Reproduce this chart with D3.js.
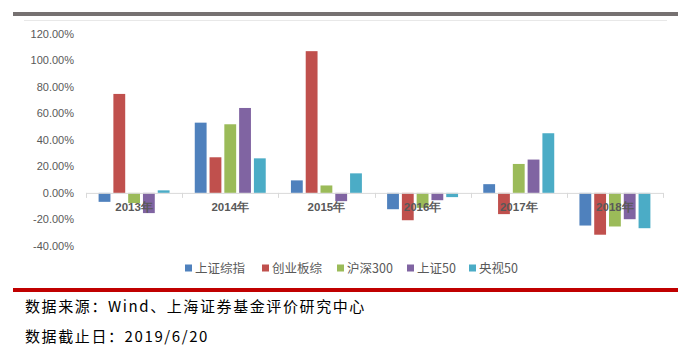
<!DOCTYPE html>
<html>
<head>
<meta charset="utf-8">
<script src="https://cdn.jsdelivr.net/npm/d3@7"></script>
<style>
  html, body { margin: 0; padding: 0; background: #fff; }
  svg { display: block; }
</style>
</head>
<body>
<svg id="chart" width="695" height="347"></svg>
<script>
// Annual returns (%) by index, 2013–2018
const years = ["2013年", "2014年", "2015年", "2016年", "2017年", "2018年"];
const seriesNames = ["上证综指", "创业板综", "沪深300", "上证50", "央视50"];
const szComposite = [-6.75, 52.87, 9.41, -12.31, 6.56, -24.59];
const chinextComposite = [74.5, 26.8, 106.7, -20.6, -16.0, -31.5];
const csi300 = [-7.65, 51.66, 5.58, -11.28, 21.78, -25.31];
const sse50 = [-15.23, 63.93, -6.23, -5.53, 25.08, -19.83];
const cctv50 = [1.9, 26.0, 14.7, -3.2, 44.9, -26.6];
const yTicks = [-40, -20, 0, 20, 40, 60, 80, 100, 120];
const sourceLines = ["数据来源：Wind、上海证券基金评价研究中心", "数据截止日：2019/6/20"];

const seriesValues = [szComposite, chinextComposite, csi300, sse50, cctv50];
const colors = ["#4f81bd", "#c0504d", "#9bbb59", "#8064a2", "#4bacc6"];

const svg = d3.select("#chart");

// top frame band and light border
svg.append("rect").attr("x", 13).attr("y", 12).attr("width", 665).attr("height", 4).attr("fill", "#767171");
svg.append("line").attr("x1", 24).attr("x2", 667).attr("y1", 20.5).attr("y2", 20.5)
  .attr("stroke", "#e8e8e8").attr("stroke-width", 1);

const x0 = d3.scaleBand().domain(years).range([86, 663]).padding(0);
const bw = x0.bandwidth();
const x1 = d3.scaleBand().domain(seriesNames).range([12.6, bw - 12.6]).paddingInner(0.2).paddingOuter(0);
const y = d3.scaleLinear().domain([-40, 120]).range([246, 33.5]);

// y-axis labels
const yAxis = d3.axisLeft(y).tickValues(yTicks).tickSize(0).tickPadding(0)
  .tickFormat(d => d.toFixed(2) + "%");
const gy = svg.append("g").attr("transform", "translate(74,0)").call(yAxis);
gy.select(".domain").remove();
gy.selectAll("text").attr("fill", "#595959").attr("font-family", "Liberation Sans, Arial, sans-serif")
  .attr("font-size", 11);

// bars
const groups = svg.append("g").selectAll("g").data(years).join("g")
  .attr("transform", d => `translate(${x0(d)},0)`);
groups.selectAll("rect")
  .data((d, i) => seriesNames.map((s, j) => ({ s, j, v: seriesValues[j][i] })))
  .join("rect")
  .attr("x", d => x1(d.s))
  .attr("width", x1.bandwidth())
  .attr("y", d => y(Math.max(0, d.v)))
  .attr("height", d => Math.abs(y(d.v) - y(0)))
  .attr("fill", d => colors[d.j]);

// zero axis with category ticks
const xAxis = d3.axisBottom(x0).tickSize(0).tickFormat("");
const gx = svg.append("g").attr("transform", `translate(0,${y(0)})`).call(xAxis);
gx.select(".domain").attr("stroke", "#d9d9d9").attr("d", `M86,0.5H663`);
gx.selectAll(".tick").remove();
const bounds = years.map(d => x0(d)).concat([663]);
gx.selectAll("line.cat").data(bounds).join("line").attr("class", "cat")
  .attr("x1", d => Math.round(d) + 0.5).attr("x2", d => Math.round(d) + 0.5)
  .attr("y1", 0).attr("y2", 5).attr("stroke", "#d9d9d9");

// category labels, drawn over the bars
svg.append("g").selectAll("text").data(years).join("text")
  .attr("x", d => x0(d) + bw / 2)
  .attr("y", y(0) + 18)
  .attr("text-anchor", "middle")
  .attr("font-family", "Liberation Sans, Arial, sans-serif")
  .attr("font-weight", "bold")
  .attr("font-size", 11.5)
  .attr("fill", "#595959")
  .text(d => d);

// legend
const legendX = [185, 262, 337, 407, 469];
const lg = svg.append("g").selectAll("g").data(seriesNames).join("g")
  .attr("transform", (d, i) => `translate(${legendX[i]},268)`);
lg.append("rect").attr("x", 0).attr("y", -3.5).attr("width", 7).attr("height", 7)
  .attr("fill", (d, i) => colors[i]);
lg.append("text").attr("x", 10).attr("y", 0).attr("dy", "0.36em")
  .attr("font-family", "Noto Sans CJK SC, sans-serif").attr("font-size", 12.5)
  .attr("fill", "#595959").text(d => d);

// red rule and source notes
svg.append("rect").attr("x", 13).attr("y", 288).attr("width", 665).attr("height", 4).attr("fill", "#c00000");
svg.append("g").selectAll("text").data(sourceLines).join("text")
  .attr("x", 25).attr("y", (d, i) => 312 + i * 30)
  .attr("font-family", "Noto Sans CJK SC, sans-serif")
  .attr("font-size", 15)
  .attr("letter-spacing", "1.6px")
  .attr("fill", "#000")
  .text(d => d);
</script>
</body>
</html>
